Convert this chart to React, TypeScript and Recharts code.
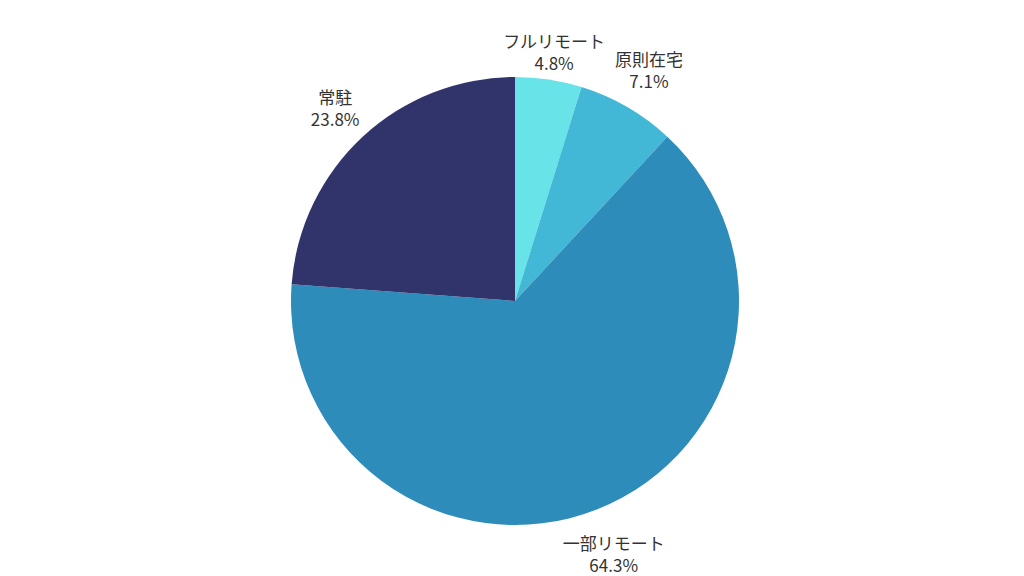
import React from "react"
import { PieChart, Pie, Cell } from "recharts"

const categories = ["フルリモート", "原則在宅", "一部リモート", "常駐"]
const shares = [4.8, 7.1, 64.3, 23.8]
const colors = ["#68e3e8", "#42b7d6", "#2d8cba", "#30346b"]

const data = categories.map((name, i) => ({ name, value: shares[i] }))

const RAD = Math.PI / 180
const FONT = "'Noto Sans CJK JP', 'Noto Sans', sans-serif"
const FONT_SIZE = 17
const LINE_GAP = 22
const TOP_PAD = 32

let ctx: CanvasRenderingContext2D | null = null
function textWidth(s: string) {
  if (!ctx) ctx = document.createElement("canvas").getContext("2d")
  if (!ctx) return s.length * FONT_SIZE
  ctx.font = `${FONT_SIZE}px ${FONT}`
  return ctx.measureText(s).width
}

function renderLabel(props: any) {
  const { cx, cy, midAngle, outerRadius, index } = props
  const lines = [categories[index], `${shares[index].toFixed(1)}%`]
  const ux = Math.cos(-midAngle * RAD)
  const uy = Math.sin(-midAngle * RAD)
  // push the two-line block out until its box clears the rim
  const hw = Math.max(...lines.map(textWidth)) / 2
  const hh = 19
  const r = outerRadius + 10 + hw * Math.abs(ux) + hh * Math.abs(uy)
  const x = cx + r * ux
  // keep the block inside the top padding
  const y = Math.max(cy + r * uy, TOP_PAD + hh)
  return (
    <text x={x} y={y} textAnchor="middle" fill="#333" fontSize={FONT_SIZE} fontFamily={FONT}>
      <tspan x={x} dy={-3}>{lines[0]}</tspan>
      <tspan x={x} dy={LINE_GAP}>{lines[1]}</tspan>
    </text>
  )
}

export default function App() {
  return (
    <div style={{ position: "fixed", left: 0, top: 0, width: 1024, height: 576, background: "#fff" }}>
      <PieChart width={1024} height={576} margin={{ top: 0, right: 0, bottom: 0, left: 0 }}>
        <Pie
          data={data}
          dataKey="value"
          nameKey="name"
          cx={515}
          cy={301}
          outerRadius={224}
          startAngle={90}
          endAngle={-270}
          stroke="none"
          label={renderLabel}
          labelLine={false}
          isAnimationActive={false}
        >
          {data.map((d, i) => (
            <Cell key={d.name} fill={colors[i]} />
          ))}
        </Pie>
      </PieChart>
    </div>
  )
}
